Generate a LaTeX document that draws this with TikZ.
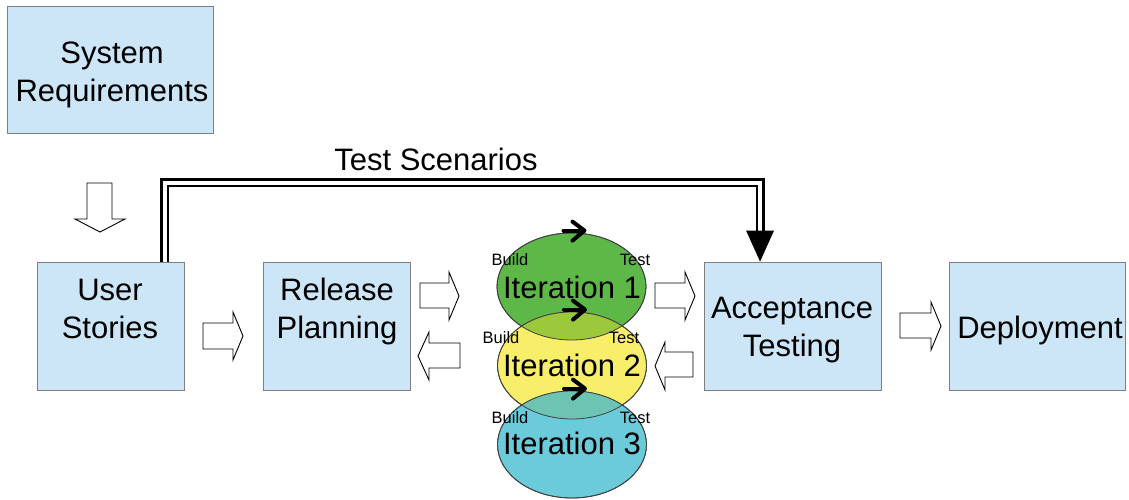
\documentclass[tikz,border=0pt]{standalone}
\usepackage{fontspec}
\setmainfont{Liberation Sans}
\usetikzlibrary{shapes.geometric,calc}
\definecolor{boxfill}{HTML}{CCE6F7}
\definecolor{boxline}{HTML}{7F7F7F}
\definecolor{itgreen}{HTML}{5DB848}
\definecolor{ityellow}{HTML}{F8EE6A}
\definecolor{itcyan}{HTML}{6BCBDB}
\definecolor{ovgy}{HTML}{9CC83C}
\definecolor{ovyc}{HTML}{6DC4B2}
\definecolor{ellline}{HTML}{404040}
\begin{document}
\begin{tikzpicture}[x=1pt,y=-1pt,
  box/.style={draw=boxline, fill=boxfill, line width=0.9pt, inner sep=0pt},
  lbl/.style={font=\fontsize{31}{38}\selectfont, align=center, inner sep=0pt},
  small/.style={font=\fontsize{16.5}{18}\selectfont, inner sep=0pt},
  iter/.style={ellipse, draw=ellline, line width=0.8pt, minimum width=149pt, minimum height=107pt, inner sep=0pt},
  blk/.style={draw=black, fill=white, line width=0.9pt, line join=miter},
  chev/.style={line width=4pt, line cap=round, line join=round},
  tsline/.style={draw=black, line width=2.5pt, double=white, double distance=4pt}
]
\useasboundingbox (0,0) rectangle (1129,499);

% boxes
\node[box, minimum width=206pt, minimum height=127pt] (sys) at (110,69.5) {};
\node[box, minimum width=147pt, minimum height=128pt] (us) at (110.5,326) {};
\node[box, minimum width=147pt, minimum height=128pt] (rp) at (336.5,326) {};
\node[box, minimum width=177pt, minimum height=128pt] (at) at (792.5,326) {};
\node[box, minimum width=176pt, minimum height=128pt] (dep) at (1037,326) {};

\node[lbl] (sysT) at (112,74.5) {System\\Requirements};
\node[lbl] (usT) at (110,308.5) {User\\Stories};
\node[lbl] (rpT) at (337,311) {Release\\Planning};
\node[lbl] (atT) at (792,330.5) {Acceptance\\Testing};
\node[lbl] (depT) at (1040,330) {Deployment};

% iterations
\node[iter, fill=itgreen] (it1) at (571.5,286.5) {};
\node[iter, fill=ityellow] (it2) at (572,365.5) {};
\node[iter, fill=itcyan] (it3) at (572,444.5) {};
\begin{scope}
  \clip (it1.center) ellipse [x radius=74.5, y radius=53.5];
  \fill[ovgy] (it2.center) ellipse [x radius=74.5, y radius=53.5];
\end{scope}
\begin{scope}
  \clip (it2.center) ellipse [x radius=74.5, y radius=53.5];
  \fill[ovyc] (it3.center) ellipse [x radius=74.5, y radius=53.5];
\end{scope}
\foreach \e in {it1,it2,it3}
  \draw[draw=ellline, line width=0.8pt] (\e.center) ellipse [x radius=74.5, y radius=53.5];

\node[lbl] (it1T) at (572,287) {Iteration 1};
\node[lbl] (it2T) at (572,365) {Iteration 2};
\node[lbl] (it3T) at (572,443) {Iteration 3};

\node[small] (b1) at (510,260) {Build};
\node[small] (t1) at (635,260) {Test};
\node[small] (b2) at (501,338) {Build};
\node[small] (t2) at (624,338) {Test};
\node[small] (b3) at (510,418) {Build};
\node[small] (t3) at (635,418) {Test};

\foreach \e in {it1,it2,it3}{
  \draw[chev] ($(\e.north)+(-8,-2)$) -- ($(\e.north)+(11,-2)$);
  \draw[chev] ($(\e.north)+(1,-11)$) -- ($(\e.north)+(13,-2)$) -- ($(\e.north)+(1,8)$);
}

% block arrows
\draw[blk] (87,183) -- (87,219) -- (75,219) -- (100,232) -- (125,219) -- (112,219) -- (112,183) -- cycle;
\draw[blk] (203,323) -- (233,323) -- (233,312) -- (243,336) -- (233,360) -- (233,349) -- (203,349) -- cycle;
\draw[blk] (420,283) -- (449,283) -- (449,272) -- (459,296) -- (449,320) -- (449,308) -- (420,308) -- cycle;
\draw[blk] (460,343) -- (429,343) -- (429,332) -- (418,356) -- (429,380) -- (429,368) -- (460,368) -- cycle;
\draw[blk] (655,283) -- (685,283) -- (685,272) -- (695,296) -- (685,320) -- (685,308) -- (655,308) -- cycle;
\draw[blk] (693,352) -- (665,352) -- (665,342) -- (655,366) -- (665,390) -- (665,377) -- (693,377) -- cycle;
\draw[blk] (900,313) -- (931,313) -- (931,302) -- (941,326) -- (931,350) -- (931,338) -- (900,338) -- cycle;

% test scenarios connector
\coordinate (tsL) at ($(us.north east)+(-19.5,0)$);
\coordinate (tsR) at ($(at.north west)+(56.5,0)$);
\coordinate (tsTop) at (0,182.5);
\draw[tsline] (tsL) -- (tsL |- tsTop) -- (tsR |- tsTop) -- ($(tsR)+(0,-31)$);
\fill[black] ($(tsR)+(-14,-31)$) -- ($(tsR)+(14,-31)$) -- (tsR) -- cycle;
\node[lbl] (tsT) at (436,159) {Test Scenarios};
\end{tikzpicture}
\end{document}
